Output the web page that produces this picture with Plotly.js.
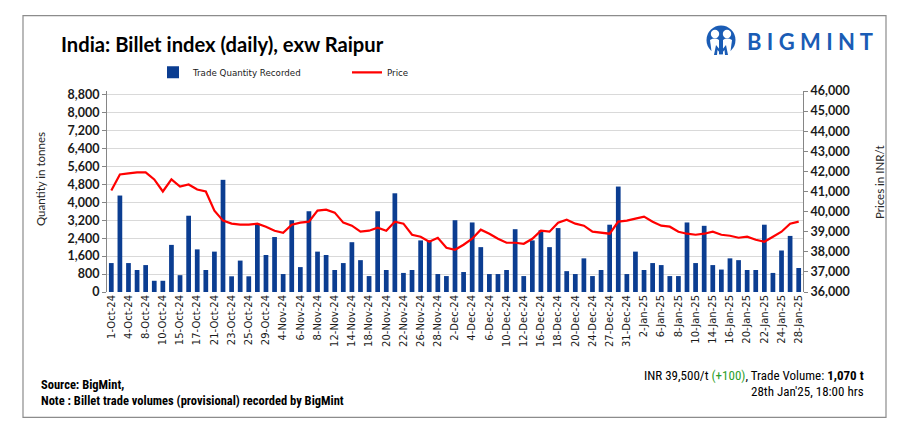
<!DOCTYPE html>
<html>
<head>
<meta charset="utf-8">
<script src="https://cdn.plot.ly/plotly-3.0.1.min.js"></script>
<style>
  html, body { margin: 0; padding: 0; background: #fff; }
  #chart { width: 907px; height: 436px; }
</style>
</head>
<body>
<div id="chart"></div>
<script>
// trading days shown on the x axis
const dates = [
  "1-Oct-24", "3-Oct-24", "4-Oct-24", "7-Oct-24", "8-Oct-24", "9-Oct-24", "10-Oct-24", "14-Oct-24",
  "15-Oct-24", "16-Oct-24", "17-Oct-24", "18-Oct-24", "21-Oct-24", "22-Oct-24", "23-Oct-24", "24-Oct-24",
  "25-Oct-24", "28-Oct-24", "29-Oct-24", "30-Oct-24", "4-Nov-24", "5-Nov-24", "6-Nov-24", "7-Nov-24",
  "8-Nov-24", "11-Nov-24", "12-Nov-24", "13-Nov-24", "14-Nov-24", "16-Nov-24", "18-Nov-24", "19-Nov-24",
  "20-Nov-24", "21-Nov-24", "22-Nov-24", "25-Nov-24", "26-Nov-24", "27-Nov-24", "28-Nov-24", "29-Nov-24",
  "2-Dec-24", "3-Dec-24", "4-Dec-24", "5-Dec-24", "6-Dec-24", "9-Dec-24", "10-Dec-24", "11-Dec-24",
  "12-Dec-24", "13-Dec-24", "16-Dec-24", "17-Dec-24", "18-Dec-24", "19-Dec-24", "20-Dec-24", "23-Dec-24",
  "24-Dec-24", "26-Dec-24", "27-Dec-24", "30-Dec-24", "31-Dec-24", "1-Jan-25", "2-Jan-25", "3-Jan-25",
  "6-Jan-25", "7-Jan-25", "8-Jan-25", "9-Jan-25", "10-Jan-25", "13-Jan-25", "14-Jan-25", "15-Jan-25",
  "16-Jan-25", "17-Jan-25", "20-Jan-25", "21-Jan-25", "22-Jan-25", "23-Jan-25", "24-Jan-25", "27-Jan-25",
  "28-Jan-25"
];

// tonnes
const quantity = [
  1290, 4300, 1290, 980, 1200, 500, 500, 2100,
  750, 3400, 1900, 980, 1800, 5000, 700, 1400,
  700, 3050, 1650, 2450, 800, 3200, 1110, 3600,
  1800, 1650, 980, 1290, 2220, 1420, 710, 3600,
  980, 4400, 850, 980, 2300, 2300, 800, 710,
  3200, 890, 3100, 2000, 800, 800, 980, 2800,
  710, 2300, 2750, 2000, 2850, 930, 800, 1500,
  710, 980, 3000, 4700, 800, 1800, 980, 1290,
  1200, 710, 710, 3100, 1290, 2950, 1200, 1000,
  1500, 1420, 980, 980, 3000, 850, 1850, 2500,
  1070
];

// INR/t
const price = [
  41050, 41850, 41900, 41950, 41950, 41600, 41000, 41600,
  41250, 41350, 41100, 41000, 40050, 39550, 39400, 39350,
  39350, 39400, 39250, 39050, 38950, 39350, 39450, 39500,
  40050, 40100, 39950, 39450, 39300, 39000, 39050, 39200,
  39050, 39500, 39400, 38850, 38750, 38500, 38700, 38200,
  38100, 38350, 38650, 39100, 38900, 38650, 38450, 38450,
  38400, 38650, 39050, 39000, 39450, 39600, 39400, 39300,
  39000, 38950, 38900, 39500, 39550, 39650, 39750, 39500,
  39300, 39250, 39000, 38900, 38850, 38900, 39000, 38850,
  38800, 38700, 38750, 38600, 38500, 38750, 39000, 39400,
  39500
];

const qtyTicks = [0, 800, 1600, 2400, 3200, 4000, 4800, 5600, 6400, 7200, 8000, 8800];
const dateTicks = dates.filter((d, i) => i % 2 === 0);

// plot area in page pixels
const W = 907, H = 436;
const L = 107, R = 803, T = 90.7, B = 292.3;
const px = (x) => (x - L) / (R - L);
const py = (y) => (B - y) / (B - T);

const logoSvg =
  '<svg xmlns="http://www.w3.org/2000/svg" viewBox="0 0 34 30">' +
  '<circle cx="17" cy="15" r="14.5" fill="#1a5cb5"/>' +
  '<circle cx="11" cy="9" r="4.2" fill="#fff"/>' +
  '<circle cx="23" cy="9" r="4.2" fill="#fff"/>' +
  '<path d="M6 15 Q11 12 15 15 L15 30 L8 30 Z" fill="#fff"/>' +
  '<path d="M19 15 Q23 12 28 15 L26 30 L19 30 Z" fill="#fff"/>' +
  '<path d="M10 30 L12 20 L17 26 L22 20 L24 30 L21 30 L20.5 25 L17 29 L13.5 25 L13 30 Z" fill="#1a5cb5"/>' +
  '</svg>';

const bars = {
  x: dates,
  y: quantity,
  name: "Trade Quantity Recorded",
  type: "bar",
  yaxis: "y",
  marker: { color: "#0b3d91" },
  hoverinfo: "skip",
};

const line = {
  x: dates,
  y: price,
  name: "Price",
  type: "scatter",
  mode: "lines",
  yaxis: "y2",
  line: { color: "#ff0000", width: 2.2 },
  hoverinfo: "skip",
};

const tickFont = { family: "Lato, 'Open Sans', sans-serif", size: 12.5, color: "#1a1a1a", weight: "bold" };
const narrow = "'Liberation Sans Narrow', 'Roboto Condensed', Roboto, sans-serif";

const layout = {
  width: W,
  height: H,
  margin: { l: L, r: W - R, t: T, b: H - B, pad: 0 },
  paper_bgcolor: "#ffffff",
  plot_bgcolor: "#ffffff",
  bargap: 0.45,
  showlegend: true,
  title: {
    text: "<b>India: Billet index (daily), exw Raipur</b>",
    font: { family: "Lato, 'Open Sans', sans-serif", size: 20.2, color: "#000" },
    xref: "container",
    yref: "container",
    x: 61 / W,
    xanchor: "left",
    y: 1 - 45 / H,
    yanchor: "middle",
  },
  legend: {
    orientation: "h",
    x: px(153),
    y: py(72),
    xanchor: "left",
    yanchor: "middle",
    font: { family: "DejaVu Sans, sans-serif", size: 8.7, color: "#1a1a1a" },
    entrywidth: 149,
    entrywidthmode: "pixels",
    bgcolor: "rgba(0,0,0,0)",
  },
  xaxis: {
    type: "category",
    tickmode: "array",
    tickvals: dateTicks,
    ticktext: dateTicks,
    tickangle: -90,
    tickfont: { family: "DejaVu Sans, sans-serif", size: 10, color: "#1a1a1a" },
    showgrid: false,
    showline: false,
    zeroline: false,
    ticks: "",
    fixedrange: true,
  },
  yaxis: {
    range: [0, 8800 * (B - T) / (B - 94.3)],
    tickmode: "array",
    tickvals: qtyTicks,
    tickformat: ",d",
    tickfont: tickFont,
    showgrid: true,
    gridcolor: "#d9d9d9",
    gridwidth: 1,
    zeroline: false,
    showline: true,
    linecolor: "#868686",
    ticks: "outside",
    ticklen: 4,
    tickcolor: "#868686",
    fixedrange: true,
  },
  yaxis2: {
    overlaying: "y",
    side: "right",
    range: [36000, 46000],
    dtick: 1000,
    tickformat: ",d",
    tickfont: tickFont,
    showgrid: false,
    zeroline: false,
    showline: true,
    linecolor: "#868686",
    ticks: "outside",
    ticklen: 4,
    tickcolor: "#868686",
    fixedrange: true,
  },
  shapes: [
    {
      type: "rect", xref: "paper", yref: "paper",
      x0: px(23), x1: px(886), y0: py(418), y1: py(15),
      line: { color: "#8c8c8c", width: 1.2 }, fillcolor: "rgba(0,0,0,0)", layer: "below",
    },
  ],
  images: [
    {
      source: "data:image/svg+xml;charset=utf-8," + encodeURIComponent(logoSvg),
      xref: "paper", yref: "paper",
      x: px(704), y: py(24.5),
      sizex: 34 / (R - L), sizey: 30 / (B - T),
      xanchor: "left", yanchor: "top", sizing: "stretch", layer: "above",
    },
  ],
  annotations: [
    {
      text: "<b>B I G M I N T</b>",
      xref: "paper", yref: "paper", x: px(745), y: py(41),
      xanchor: "left", yanchor: "middle", showarrow: false,
      font: { family: "Lato, 'Open Sans', sans-serif", size: 22, color: "#1a5cb5" },
    },
    {
      text: "Quantity in tonnes",
      xref: "paper", yref: "paper", x: px(40), y: py(179),
      xanchor: "center", yanchor: "middle", textangle: -90, showarrow: false,
      font: { family: "Lato, 'Open Sans', sans-serif", size: 11.5, color: "#262626" },
    },
    {
      text: "Prices in INR/t",
      xref: "paper", yref: "paper", x: px(879), y: py(182),
      xanchor: "center", yanchor: "middle", textangle: -90, showarrow: false,
      font: { family: "Lato, 'Open Sans', sans-serif", size: 11.5, color: "#262626" },
    },
    {
      text: "<b>Source: BigMint,</b>",
      xref: "paper", yref: "paper", x: px(39), y: py(385),
      xanchor: "left", yanchor: "middle", showarrow: false,
      font: { family: narrow, size: 12.5, color: "#000" },
    },
    {
      text: "<b>Note : Billet trade volumes (provisional) recorded by BigMint</b>",
      xref: "paper", yref: "paper", x: px(39), y: py(401),
      xanchor: "left", yanchor: "middle", showarrow: false,
      font: { family: narrow, size: 12.5, color: "#000" },
    },
    {
      text: "INR 39,500/t <span style='color:#2ca02c'>(+100)</span>, Trade Volume: <b>1,070 t</b>",
      xref: "paper", yref: "paper", x: px(866), y: py(376),
      xanchor: "right", yanchor: "middle", showarrow: false,
      font: { family: narrow, size: 13, color: "#000" },
    },
    {
      text: "28th Jan'25, 18:00 hrs",
      xref: "paper", yref: "paper", x: px(866), y: py(392),
      xanchor: "right", yanchor: "middle", showarrow: false,
      font: { family: narrow, size: 13, color: "#000" },
    },
  ],
};

const config = {
  displayModeBar: false,
  staticPlot: true,
  responsive: false,
};

Plotly.newPlot("chart", [bars, line], layout, config);
</script>
</body>
</html>
